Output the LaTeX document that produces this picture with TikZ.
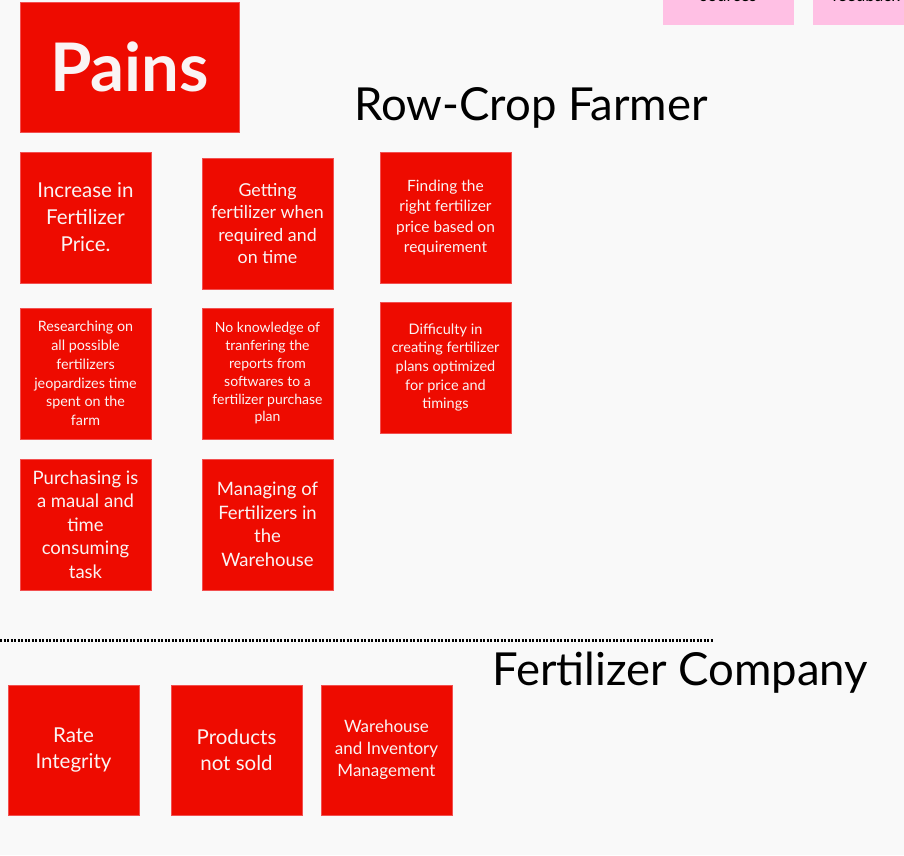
\documentclass[tikz,border=0pt]{standalone}
\usepackage{fontspec}
\setmainfont{Lato}
\definecolor{bg}{HTML}{F9F9F9}
\definecolor{painred}{HTML}{EE0B00}
\definecolor{edgered}{HTML}{F25050}
\definecolor{stickypink}{HTML}{FFC0E4}
\definecolor{txtwhite}{HTML}{FAF4F4}
\begin{document}
\begin{tikzpicture}[x=1pt,y=-1pt,
  card/.style={fill=painred,draw=edgered,line width=0.6pt,minimum width=131pt,minimum height=131pt,inner sep=0pt,text=txtwhite,align=center,font=\fontsize{17}{23}\selectfont},
  pinkcard/.style={fill=stickypink,draw=none,inner sep=0pt},
  heading/.style={anchor=base west,inner sep=0pt,text=black,font=\fontsize{45.5}{50}\selectfont}]
\useasboundingbox[fill=bg] (0,0) rectangle (904,855);
% pink sticky notes at top (cut off)
\begin{scope}
\clip (0,0) rectangle (904,855);
\fill[stickypink] (663,-5) rectangle (794,25);
\fill[stickypink] (813,-5) rectangle (910,25);
\node[anchor=base,inner sep=0pt,font=\fontsize{17}{20}\selectfont] (srcs) at (728.5,1) {sources};
\node[anchor=base west,inner sep=0pt,font=\fontsize{17}{20}\selectfont] (fdbk) at (832,1) {feedback};
\end{scope}
% Pains header
\node[card,minimum width=219pt,minimum height=130pt,font=\fontsize{67}{70}\selectfont\bfseries] (pains) at (129.5,67) {Pains};
\node[heading] (rowcrop) at (354,120) {Row-Crop Farmer};
% Row-crop farmer pains
\node[card,font=\fontsize{20.5}{27}\selectfont] (p1) at (85.5,217.5) {Increase in\\Fertilizer\\Price.};
\node[card,font=\fontsize{17.8}{22.5}\selectfont] (p2) at (267.5,223.5) {Getting\\fertilizer when\\required and\\on time};
\node[card,font=\fontsize{15.5}{20.5}\selectfont] (p3) at (445.5,217.5) {Finding the\\right fertilizer\\price based on\\requirement};
\node[card,font=\fontsize{14.3}{18.8}\selectfont] (p4) at (85.5,373.5) {Researching on\\all possible\\fertilizers\\jeopardizes time\\spent on the\\farm};
\node[card,font=\fontsize{14}{17.8}\selectfont] (p5) at (267.5,373.5) {No knowledge of\\tranfering the\\reports from\\softwares to a\\fertilizer purchase\\plan};
\node[card,font=\fontsize{14.5}{18.6}\selectfont] (p6) at (445.5,367.5) {Difficulty in\\creating fertilizer\\plans optimized\\for price and\\timings};
\node[card,font=\fontsize{18.5}{23.5}\selectfont] (p7) at (85.5,524.5) {Purchasing is\\a maual and\\time\\consuming\\task};
\node[card,font=\fontsize{18.5}{23.5}\selectfont] (p8) at (267.5,524.5) {Managing of\\Fertilizers in\\the\\Warehouse};
% divider
\coordinate (dl) at (0,640);
\coordinate (dr) at (713,640);
\draw[line width=3pt,dash pattern=on 2pt off 1.5pt] (dl) -- (dr);
\node[heading] (fertco) at (492,685) {Fertilizer Company};
% Fertilizer company pains
\node[card,minimum height=130pt,font=\fontsize{20.5}{26}\selectfont] (c1) at (73.5,750) {Rate\\Integrity};
\node[card,minimum height=130pt,font=\fontsize{20.5}{26}\selectfont] (c2) at (236.5,750) {Products\\not sold};
\node[card,minimum height=130pt,font=\fontsize{17}{22}\selectfont] (c3) at (386.5,750) {Warehouse\\and Inventory\\Management};
\end{tikzpicture}
\end{document}
